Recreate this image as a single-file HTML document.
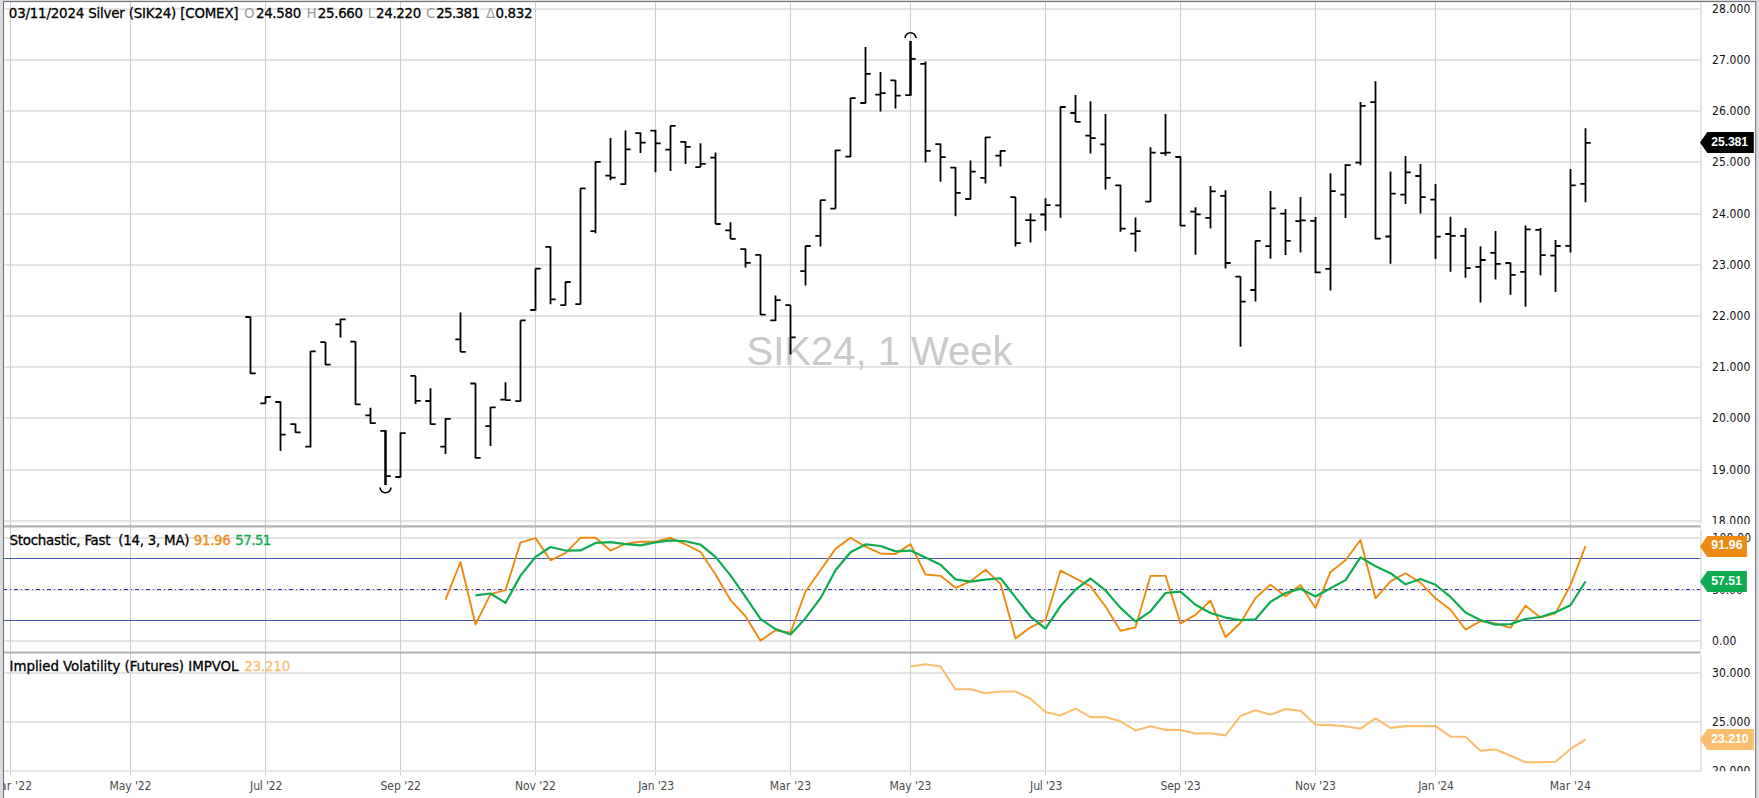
<!DOCTYPE html>
<html lang="en"><head><meta charset="utf-8"><title>Silver (SIK24) Weekly Chart</title>
<style>html,body{margin:0;padding:0;background:#fff;overflow:hidden}svg{display:block}text{font-family:'Liberation Sans', sans-serif}text.os{font-family:'DejaVu Sans Condensed', 'Liberation Sans', sans-serif}</style></head><body>
<svg width="1759" height="798" viewBox="0 0 1759 798">
<defs><clipPath id="cm"><rect x="4" y="2" width="1751.5" height="522"/></clipPath><clipPath id="cs"><rect x="4" y="529" width="1751.5" height="121.5"/></clipPath><clipPath id="ci"><rect x="4" y="655" width="1751.5" height="116.2"/></clipPath><clipPath id="cx"><rect x="4" y="771" width="1751.5" height="27"/></clipPath></defs>
<rect x="0" y="0" width="1759" height="798" fill="#d9dde1"/>
<rect x="4" y="2" width="1751.5" height="796" fill="#fff"/>
<g stroke="#e4e4e4" stroke-width="2">
<line x1="4" x2="1701" y1="9" y2="9"/>
<line x1="4" x2="1701" y1="60" y2="60"/>
<line x1="4" x2="1701" y1="111" y2="111"/>
<line x1="4" x2="1701" y1="162" y2="162"/>
<line x1="4" x2="1701" y1="214" y2="214"/>
<line x1="4" x2="1701" y1="265" y2="265"/>
<line x1="4" x2="1701" y1="316" y2="316"/>
<line x1="4" x2="1701" y1="367" y2="367"/>
<line x1="4" x2="1701" y1="418" y2="418"/>
<line x1="4" x2="1701" y1="470" y2="470"/>
<line x1="4" x2="1701" y1="521" y2="521"/>
<line x1="4" x2="1701" y1="538" y2="538"/>
<line x1="4" x2="1701" y1="590" y2="590"/>
<line x1="4" x2="1701" y1="641" y2="641"/>
<line x1="4" x2="1701" y1="673" y2="673"/>
<line x1="4" x2="1701" y1="722" y2="722"/>
</g>
<g stroke="#cdcdcf" stroke-width="1">
<line x1="10.5" x2="10.5" y1="2" y2="775.6"/>
<line x1="130.5" x2="130.5" y1="2" y2="775.6"/>
<line x1="265.5" x2="265.5" y1="2" y2="775.6"/>
<line x1="400.5" x2="400.5" y1="2" y2="775.6"/>
<line x1="535.5" x2="535.5" y1="2" y2="775.6"/>
<line x1="655.5" x2="655.5" y1="2" y2="775.6"/>
<line x1="790.5" x2="790.5" y1="2" y2="775.6"/>
<line x1="910.5" x2="910.5" y1="2" y2="775.6"/>
<line x1="1045.5" x2="1045.5" y1="2" y2="775.6"/>
<line x1="1180.5" x2="1180.5" y1="2" y2="775.6"/>
<line x1="1315.5" x2="1315.5" y1="2" y2="775.6"/>
<line x1="1435.5" x2="1435.5" y1="2" y2="775.6"/>
<line x1="1570.5" x2="1570.5" y1="2" y2="775.6"/>
</g>
<g stroke="#e4e4e4" stroke-width="2">
<line x1="4" x2="1702" y1="771" y2="771"/>
<line x1="1701" x2="1701" y1="2" y2="523.7"/>
<line x1="1701" x2="1701" y1="529.2" y2="649.4"/>
<line x1="1701" x2="1701" y1="655.2" y2="772"/>
</g>
<g stroke="#b2b2b2" stroke-width="2.2">
<line x1="4" x2="1700.8" y1="526.4" y2="526.4"/>
<line x1="4" x2="1700.8" y1="652.5" y2="652.5"/>
</g>
<text x="879.5" y="364.6" font-size="40" fill="#c9c9c9" text-anchor="middle">SIK24, 1 Week</text>
<g fill="none">
<line x1="4" x2="1700.3" y1="558.5" y2="558.5" stroke="#4d57ae" stroke-width="1"/>
<line x1="4" x2="1700.3" y1="620.5" y2="620.5" stroke="#4d57ae" stroke-width="1"/>
<line x1="3" x2="1700.3" y1="589.5" y2="589.5" stroke="#2a34a6" stroke-width="1" stroke-dasharray="4 3 1 3"/>
</g>
<g clip-path="url(#cm)" fill="none" stroke="#000">
<path stroke-width="1.8" d="M250.5 317V373.9M245.3 317H250.5M250.5 373.4H255.7M265.5 396.5V403.5M260.3 403.3H265.5M265.5 397H270.7M280.5 401.5V451.1M275.3 402H280.5M280.5 434.6H285.7M295.5 423.6V432.8M290.3 424.1H295.5M295.5 432.3H300.7M310.5 350.9V447.4M305.3 446.6H310.5M310.5 351.4H315.7M325.5 341.9V365.2M320.3 342.1H325.5M325.5 364.7H330.7M340.5 318.8V337.6M335.3 324.3H340.5M340.5 319.3H345.7M355.5 341.4V404.8M350.3 341.6H355.5M355.5 404.3H360.7M370.5 407.8V423.6M365.3 415.3H370.5M370.5 423.1H375.7M380.3 430.8H385.5M385.5 476.1H390.7M400.5 432.6V477.5M395.3 477H400.5M400.5 433.1H405.7M415.5 375.7V404M410.3 375.9H415.5M415.5 400.8H420.7M430.5 388.2V424.6M425.3 401H430.5M430.5 424.1H435.7M445.5 418.3V454.1M440.3 446.6H445.5M445.5 418.8H450.7M460.5 312.5V351.9M455.3 339.3H460.5M460.5 351.9H465.7M475.5 383.2V458.4M470.3 383.5H475.5M475.5 457.9H480.7M490.5 407V445.9M485.3 426.1H490.5M490.5 407.3H495.7M505.5 382.2V400.5M500.3 399.7H505.5M505.5 400.2H510.7M520.5 320.4V401.6M515.3 401.2H520.5M520.5 320.4H525.7M535.5 268.6V310.4M530.3 310H535.5M535.5 268.6H540.7M550.5 246.6V304.3M545.3 246.8H550.5M550.5 299.3H555.7M565.5 281.7V305.6M560.3 305.2H565.5M565.5 282H570.7M580.5 188.2V304.6M575.3 304.2H580.5M580.5 188.4H585.7M595.5 161.4V233.3M590.3 231.1H595.5M595.5 161.9H600.7M610.5 138.1V180.2M605.3 175.7H610.5M610.5 177.7H615.7M625.5 130.6V184.7M620.3 184.2H625.5M625.5 149.3H630.7M640.5 132.6V153.1M635.3 133.1H640.5M640.5 142.6H645.7M655.5 130.1V172.2M650.3 130.6H655.5M655.5 143.3H660.7M670.5 125.5V170.9M665.3 149.6H670.5M670.5 125.8H675.7M685.5 141.3V163.9M680.3 141.8H685.5M685.5 146.8H690.7M700.5 143.3V167.1M695.3 167.1H700.5M700.5 163.9H705.7M715.5 152.6V224M710.3 157.6H715.5M715.5 224H720.7M730.5 222.3V239.1M725.3 230.3H730.5M730.5 238.8H735.7M745.5 248.6V267.4M740.3 249.1H745.5M745.5 262.9H750.7M760.5 254.6V315.1M755.3 254.9H760.5M760.5 314.7H765.7M775.5 295.4V321.1M770.3 320.4H775.5M775.5 300.1H780.7M790.5 305.2V354.6M785.3 305.2H790.5M790.5 337.3H795.7M805.5 245.7V285.5M800.3 271.2H805.5M805.5 246H810.7M820.5 199.8V246.5M815.3 235.8H820.5M820.5 200.2H825.7M835.5 149.8V208.8M830.3 208.6H835.5M835.5 150.3H840.7M850.5 97.7V157.1M845.3 156.6H850.5M850.5 98.2H855.7M865.5 47.1V103.5M860.3 103H865.5M865.5 73.9H870.7M880.5 71.9V111.5M875.3 94.7H880.5M880.5 93.2H885.7M895.5 80.2V108.5M890.3 80.4H895.5M895.5 95.7H900.7M905.3 95.2H910.5M910.5 58.8H915.7M925.5 61.4V162.4M920.3 63.9H925.5M925.5 150.8H930.7M940.5 143.6V181.7M935.3 144.1H940.5M940.5 157.1H945.7M955.5 167.1V216.2M950.3 167.6H955.5M955.5 192.9H960.7M970.5 160.4V199.4M965.3 199H970.5M970.5 171.6H975.7M985.5 137V183.4M980.3 177.9H985.5M985.5 137.3H990.7M1000.5 150.3V166.6M995.3 155.6H1000.5M1000.5 150.8H1005.7M1015.5 197.1V246.5M1010.3 197.2H1015.5M1015.5 243.1H1020.7M1030.5 213.6V242.6M1025.3 220.1H1030.5M1030.5 220.4H1035.7M1045.5 198.3V230.7M1040.3 214.5H1045.5M1045.5 205.1H1050.7M1060.5 106.5V217.7M1055.3 205.4H1060.5M1060.5 107H1065.7M1075.5 95.1V122.1M1070.3 113H1075.5M1075.5 121.8H1080.7M1090.5 101.3V153.5M1085.3 135.7H1090.5M1090.5 138.2H1095.7M1105.5 113.9V189.5M1100.3 144.4H1105.5M1105.5 177.8H1110.7M1120.5 184.8V231.7M1115.3 185.3H1120.5M1120.5 228.6H1125.7M1135.5 217.4V251.8M1130.3 233.6H1135.5M1135.5 231.1H1140.7M1150.5 147.2V202.1M1145.3 201.6H1150.5M1150.5 152.7H1155.7M1165.5 113.9V155.7M1160.3 153.2H1165.5M1165.5 152.7H1170.7M1180.5 156.5V226.1M1175.3 157H1180.5M1180.5 225.6H1185.7M1195.5 207.3V254.7M1190.3 211.6H1195.5M1195.5 214.4H1200.7M1210.5 186V228.4M1205.3 217.9H1210.5M1210.5 191.3H1215.7M1225.5 190.3V268.6M1220.3 195.8H1225.5M1225.5 263H1230.7M1240.5 276.4V346.8M1235.3 276.6H1240.5M1240.5 301.6H1245.7M1255.5 240.5V301.6M1250.3 290H1255.5M1255.5 240.9H1260.7M1270.5 191.1V258.7M1265.3 246.2H1270.5M1270.5 208.3H1275.7M1285.5 209.1V255M1280.3 213.6H1285.5M1285.5 240.8H1290.7M1300.5 197.1V252.5M1295.3 221.1H1300.5M1300.5 220.4H1305.7M1315.5 217.1V273.2M1310.3 220.9H1315.5M1315.5 272.3H1320.7M1330.5 173.3V290.5M1325.3 268.9H1330.5M1330.5 191.1H1335.7M1345.5 164V217.9M1340.3 194.6H1345.5M1345.5 165.2H1350.7M1360.5 102.1V165.2M1355.3 162.7H1360.5M1360.5 105.8H1365.7M1375.5 81.3V239.5M1370.3 102.1H1375.5M1375.5 238.7H1380.7M1390.5 171.5V263.7M1385.3 236.5H1390.5M1390.5 193.6H1395.7M1405.5 156V204.1M1400.3 194.6H1405.5M1405.5 172.3H1410.7M1420.5 164V213.6M1415.3 176H1420.5M1420.5 197.1H1425.7M1435.5 184V259.1M1430.3 199.6H1435.5M1435.5 236.7H1440.7M1450.5 216.7V271.7M1445.3 234H1450.5M1450.5 235.9H1455.7M1465.5 227.9V277.7M1460.3 235.9H1465.5M1465.5 268.2H1470.7M1480.5 246.2V302.6M1475.3 266.8H1480.5M1480.5 260H1485.7M1495.5 231.1V279.6M1490.3 252.8H1495.5M1495.5 263.9H1500.7M1510.5 262.5V294.8M1505.3 263H1510.5M1510.5 274.8H1515.7M1525.5 225.5V306.7M1520.3 271.9H1525.5M1525.5 229.4H1530.7M1540.5 227.9V275.2M1535.3 229.8H1540.5M1540.5 255.1H1545.7M1555.5 240V291.9M1550.3 255.6H1555.5M1555.5 246H1560.7M1570.5 169V252.6M1565.3 245.8H1570.5M1570.5 185.3H1575.7M1585.5 128.3V202.2M1580.3 183.8H1585.5M1585.5 142.8H1590.7"/>
<path stroke-width="2.5" d="M385.5 430.3V484.9M910.5 41V95.7"/>
<path stroke-width="1.6" d="M380.1 487.4A5.4 5.4 0 0 0 390.9 487.4"/>
<path stroke-width="1.6" d="M905.1 38.1A5.4 5.4 0 0 1 915.9 38.1"/>
</g>
<g clip-path="url(#cs)" fill="none" stroke-linejoin="round" stroke-linecap="butt">
<polyline stroke="#ee8a10" stroke-width="1.9" points="445.5,599.71 460.5,562.01 475.5,624.44 490.5,594.08 505.5,590.15 520.5,542.57 535.5,538.13 550.5,560.31 565.5,553.14 580.5,537.79 595.5,537.79 610.5,550.58 625.5,543.76 640.5,541.71 655.5,541.71 670.5,537.79 685.5,544.27 700.5,551.78 715.5,574.46 730.5,600.05 745.5,616.25 760.5,640.64 775.5,630.24 790.5,632.79 805.5,591.52 820.5,570.2 835.5,548.88 850.5,537.79 865.5,546.66 880.5,553.48 895.5,554 910.5,544.1 925.5,574.46 940.5,575.83 955.5,587.77 970.5,581.29 985.5,569.69 1000.5,583.84 1015.5,638.42 1030.5,627.34 1045.5,620 1060.5,570.71 1075.5,578.39 1090.5,586.4 1105.5,606.53 1120.5,630.75 1135.5,627.34 1150.5,575.83 1165.5,575.83 1180.5,623.41 1195.5,614.89 1210.5,600.56 1225.5,637.23 1240.5,622.73 1255.5,598 1270.5,584.7 1285.5,596.29 1300.5,585.04 1315.5,608.06 1330.5,571.9 1345.5,560.31 1360.5,540.01 1375.5,598.34 1390.5,581.29 1405.5,573.27 1420.5,582.65 1435.5,598.34 1450.5,609.77 1465.5,629.55 1480.5,621.03 1495.5,623.41 1510.5,627.85 1525.5,605.68 1540.5,617.44 1555.5,613.35 1570.5,585.04 1585.5,546.15"/>
<polyline stroke="#0eab50" stroke-width="2.2" points="475.5,595.38 490.5,593.51 505.5,602.89 520.5,575.6 535.5,556.95 550.5,547 565.5,550.53 580.5,550.41 595.5,542.91 610.5,542.06 625.5,544.05 640.5,545.35 655.5,542.4 670.5,540.41 685.5,541.26 700.5,544.61 715.5,556.84 730.5,575.43 745.5,596.92 760.5,618.98 775.5,629.04 790.5,634.56 805.5,618.18 820.5,598.17 835.5,570.2 850.5,552.29 865.5,544.44 880.5,545.98 895.5,551.38 910.5,550.53 925.5,557.52 940.5,564.8 955.5,579.35 970.5,581.63 985.5,579.58 1000.5,578.27 1015.5,597.32 1030.5,616.53 1045.5,628.59 1060.5,606.02 1075.5,589.7 1090.5,578.5 1105.5,590.44 1120.5,607.89 1135.5,621.54 1150.5,611.3 1165.5,593 1180.5,591.69 1195.5,604.71 1210.5,612.95 1225.5,617.56 1240.5,620.17 1255.5,619.32 1270.5,601.81 1285.5,593 1300.5,588.68 1315.5,596.47 1330.5,588.34 1345.5,580.09 1360.5,557.41 1375.5,566.22 1390.5,573.21 1405.5,584.3 1420.5,579.07 1435.5,584.75 1450.5,596.92 1465.5,612.55 1480.5,620.12 1495.5,624.66 1510.5,624.1 1525.5,618.98 1540.5,616.99 1555.5,612.16 1570.5,605.28 1585.5,581.51"/>
</g>
<polyline clip-path="url(#ci)" fill="none" stroke="#fbbe6e" stroke-linejoin="round" stroke-width="2.1" points="910.5,666.46 925.5,664.24 940.5,666.46 955.5,689.31 970.5,689.31 985.5,693.23 1000.5,691.53 1015.5,691.53 1030.5,698.69 1045.5,712 1060.5,715.41 1075.5,708.59 1090.5,717.11 1105.5,717.11 1120.5,721.38 1135.5,730.42 1150.5,726.15 1165.5,729.91 1180.5,729.91 1195.5,733.49 1210.5,733.32 1225.5,735.36 1240.5,715.92 1255.5,710.29 1270.5,714.73 1285.5,709.1 1300.5,710.8 1315.5,724.45 1330.5,725.13 1345.5,726.32 1360.5,728.71 1375.5,718.31 1390.5,727.86 1405.5,726.15 1420.5,726.15 1435.5,726.15 1450.5,736.73 1465.5,736.73 1480.5,750.71 1495.5,749.52 1510.5,755.83 1525.5,762.31 1540.5,762.31 1555.5,761.8 1570.5,749.01 1585.5,739.63"/>
<text id="m0" class="os" x="1712.01" y="13" font-size="12" fill="#111" clip-path="url(#cm)" letter-spacing="0.12">28.000</text>
<text id="m1" class="os" x="1712.01" y="64" font-size="12" fill="#111" clip-path="url(#cm)" letter-spacing="0.12">27.000</text>
<text id="m2" class="os" x="1712.01" y="115" font-size="12" fill="#111" clip-path="url(#cm)" letter-spacing="0.12">26.000</text>
<text id="m3" class="os" x="1712.01" y="166" font-size="12" fill="#111" clip-path="url(#cm)" letter-spacing="0.12">25.000</text>
<text id="m4" class="os" x="1712.01" y="218" font-size="12" fill="#111" clip-path="url(#cm)" letter-spacing="0.12">24.000</text>
<text id="m5" class="os" x="1712.01" y="269" font-size="12" fill="#111" clip-path="url(#cm)" letter-spacing="0.12">23.000</text>
<text id="m6" class="os" x="1712.01" y="320" font-size="12" fill="#111" clip-path="url(#cm)" letter-spacing="0.12">22.000</text>
<text id="m7" class="os" x="1712.01" y="371" font-size="12" fill="#111" clip-path="url(#cm)" letter-spacing="0.12">21.000</text>
<text id="m8" class="os" x="1712.01" y="422" font-size="12" fill="#111" clip-path="url(#cm)" letter-spacing="0.12">20.000</text>
<text id="m9" class="os" x="1711.6" y="474" font-size="12" fill="#111" clip-path="url(#cm)" letter-spacing="0.2">19.000</text>
<text id="m10" class="os" x="1711.6" y="525" font-size="12" fill="#111" clip-path="url(#cm)" letter-spacing="0.2">18.000</text>
<text id="s100" class="os" x="1712.34" y="542" font-size="12" fill="#111" clip-path="url(#cs)" letter-spacing="0.2">100.00</text>
<text id="s50" class="os" x="1712.14" y="593.8" font-size="12" fill="#111" clip-path="url(#cs)" letter-spacing="-0.06">50.00</text>
<text id="s0" class="os" x="1712.1" y="645" font-size="12" fill="#111" clip-path="url(#cs)" letter-spacing="0.09">0.00</text>
<text id="i30" class="os" x="1711.89" y="677" font-size="12" fill="#111" clip-path="url(#ci)" letter-spacing="0.14">30.000</text>
<text id="i25" class="os" x="1712.01" y="726" font-size="12" fill="#111" clip-path="url(#ci)" letter-spacing="0.12">25.000</text>
<text id="i20" class="os" x="1712.01" y="775" font-size="12" fill="#111" clip-path="url(#ci)" letter-spacing="0.12">20.000</text>
<path d="M1700 142.5 L1707.3 132 H1753.8 V153 H1707.3 Z" fill="#000"/>
<path d="M1700 546.4 L1707.3 535.9 H1746.9 V556.9 H1707.3 Z" fill="#ee8a10"/>
<path d="M1700 581.5 L1707.3 571 H1746.9 V592 H1707.3 Z" fill="#0eab50"/>
<path d="M1700 739.4 L1707.3 728.9 H1753.8 V749.9 H1707.3 Z" fill="#fbbe6e"/>
<text id="f0" x="1711.33" y="146" font-size="12.2" fill="#fff" font-weight="bold" letter-spacing="-0.12">25.381</text>
<text id="f1" x="1711.24" y="549" font-size="12.2" fill="#fff" font-weight="bold" letter-spacing="0.19">91.96</text>
<text id="f2" x="1711.14" y="584.9" font-size="12.2" fill="#fff" font-weight="bold" letter-spacing="0.03">57.51</text>
<text id="f3" x="1711.21" y="742.9" font-size="12.2" fill="#fff" font-weight="bold" letter-spacing="0.01">23.210</text>
<text id="x0" class="os" x="-9.43" y="789.7" font-size="12" fill="#4a4a4a" clip-path="url(#cx)" letter-spacing="0.17">Mar '22</text>
<text id="x1" class="os" x="109.54" y="789.7" font-size="12" fill="#4a4a4a" clip-path="url(#cx)" letter-spacing="-0.09">May '22</text>
<text id="x2" class="os" x="250.11" y="789.7" font-size="12" fill="#4a4a4a" clip-path="url(#cx)" letter-spacing="-0.14">Jul '22</text>
<text id="x3" class="os" x="380.45" y="789.7" font-size="12" fill="#4a4a4a" clip-path="url(#cx)">Sep '22</text>
<text id="x4" class="os" x="514.97" y="789.7" font-size="12" fill="#4a4a4a" clip-path="url(#cx)" letter-spacing="-0.03">Nov '22</text>
<text id="x5" class="os" x="638.25" y="789.7" font-size="12" fill="#4a4a4a" clip-path="url(#cx)" letter-spacing="-0.15">Jan '23</text>
<text id="x6" class="os" x="769.67" y="789.7" font-size="12" fill="#4a4a4a" clip-path="url(#cx)" letter-spacing="0.17">Mar '23</text>
<text id="x7" class="os" x="889.54" y="789.7" font-size="12" fill="#4a4a4a" clip-path="url(#cx)" letter-spacing="-0.09">May '23</text>
<text id="x8" class="os" x="1030.11" y="789.7" font-size="12" fill="#4a4a4a" clip-path="url(#cx)" letter-spacing="-0.16">Jul '23</text>
<text id="x9" class="os" x="1160.45" y="789.7" font-size="12" fill="#4a4a4a" clip-path="url(#cx)" letter-spacing="-0.05">Sep '23</text>
<text id="x10" class="os" x="1294.97" y="789.7" font-size="12" fill="#4a4a4a" clip-path="url(#cx)" letter-spacing="-0.04">Nov '23</text>
<text id="x11" class="os" x="1418.25" y="789.7" font-size="12" fill="#4a4a4a" clip-path="url(#cx)" letter-spacing="-0.21">Jan '24</text>
<text id="x12" class="os" x="1549.67" y="789.7" font-size="12" fill="#4a4a4a" clip-path="url(#cx)" letter-spacing="0.12">Mar '24</text>
<text id="t0" class="os" x="8.81" y="17.7" font-size="14.9" fill="#000" letter-spacing="-0.19" stroke="#000" stroke-width="0.3">03/11/2024 Silver (SIK24) [COMEX]</text>
<text id="tO" class="os" x="244.04" y="17.7" font-size="14.9" fill="#9b9b9b">O</text>
<text id="tOv" class="os" x="255.94" y="17.7" font-size="14.9" fill="#000" letter-spacing="-0.33" stroke="#000" stroke-width="0.3">24.580</text>
<text id="tH" class="os" x="306.4" y="17.7" font-size="14.9" fill="#9b9b9b">H</text>
<text id="tHv" class="os" x="317.82" y="17.7" font-size="14.9" fill="#000" letter-spacing="-0.32" stroke="#000" stroke-width="0.3">25.660</text>
<text id="tL" class="os" x="367.78" y="17.7" font-size="14.9" fill="#9b9b9b">L</text>
<text id="tLv" class="os" x="376.1" y="17.7" font-size="14.9" fill="#000" letter-spacing="-0.36" stroke="#000" stroke-width="0.3">24.220</text>
<text id="tC" class="os" x="426.04" y="17.7" font-size="14.9" fill="#9b9b9b">C</text>
<text id="tCv" class="os" x="436.13" y="17.7" font-size="14.9" fill="#000" letter-spacing="-0.61" stroke="#000" stroke-width="0.3">25.381</text>
<text id="tD" class="os" x="486.07" y="17.7" font-size="14.9" fill="#9b9b9b">Δ</text>
<text id="tDv" class="os" x="495.41" y="17.7" font-size="14.9" fill="#000" letter-spacing="-0.3" stroke="#000" stroke-width="0.3">0.832</text>
<text id="st" class="os" x="9.43" y="544.7" font-size="14.9" fill="#000" letter-spacing="-0.24" stroke="#000" stroke-width="0.3">Stochastic, Fast  (14, 3, MA)</text>
<text id="stK" class="os" x="193.84" y="544.7" font-size="14.9" fill="#ee8a10" letter-spacing="-0.34" stroke="#ee8a10" stroke-width="0.3">91.96</text>
<text id="stD" class="os" x="235.36" y="544.7" font-size="14.9" fill="#0eab50" letter-spacing="-0.59" stroke="#0eab50" stroke-width="0.3">57.51</text>
<text id="iv" class="os" x="9.54" y="670.6" font-size="14.9" fill="#000" letter-spacing="-0.05" stroke="#000" stroke-width="0.3">Implied Volatility (Futures) IMPVOL</text>
<text id="ivv" class="os" x="244.35" y="670.6" font-size="14.9" fill="#fbbe6e" letter-spacing="-0.21" stroke="#fbbe6e" stroke-width="0.3">23.210</text>
<rect x="0" y="0" width="3" height="798" fill="#d9dde1"/>
<rect x="0" y="0" width="1759" height="1.1" fill="#d9dde1"/>
<rect x="1756.2" y="0" width="3" height="798" fill="#d9dde1"/>
<rect x="3" y="1.1" width="1" height="798" fill="#696b70"/>
<rect x="3" y="1.1" width="1753.2" height="1" fill="#696b70"/>
<rect x="1755.2" y="1.1" width="1" height="798" fill="#696b70"/>
</svg></body></html>
